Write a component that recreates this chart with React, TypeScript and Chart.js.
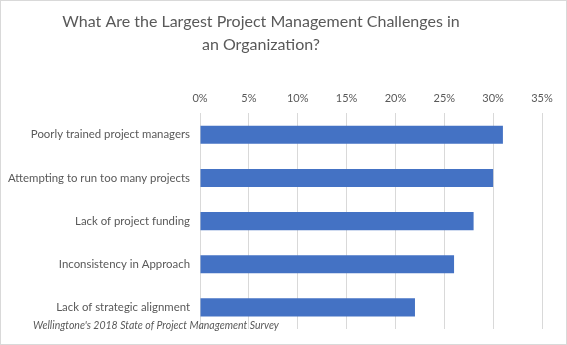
import React, { useEffect, useRef } from "react";
import { Chart, registerables } from "chart.js";

Chart.register(...registerables);

const categories: string[] = [
  "Poorly trained project managers",
  "Attempting to run too many projects",
  "Lack of project funding",
  "Inconsistency in Approach",
  "Lack of strategic alignment",
];
const values: number[] = [0.31, 0.30, 0.28, 0.26, 0.22];
const titleLines: string[] = [
  "What Are the Largest Project Management Challenges in",
  "an Organization?",
];
const footnote = "Wellingtone's 2018 State of Project Management Survey";

const TEXT = "#595959";
const FONT = "Lato, 'Liberation Sans', sans-serif";

const decorPlugin = {
  id: "decor",
  afterDraw(chart: any) {
    const ctx = chart.ctx;
    ctx.save();
    ctx.strokeStyle = "#D9D9D9";
    ctx.lineWidth = 1;
    ctx.strokeRect(0.5, 0.5, chart.width - 1, chart.height - 1);
    ctx.fillStyle = TEXT;
    ctx.textAlign = "center";
    ctx.textBaseline = "middle";
    ctx.font = `16px ${FONT}`;
    ctx.fillText(titleLines[0], 261, 22);
    ctx.fillText(titleLines[1], 261, 45);
    ctx.textAlign = "left";
    ctx.font = `italic 10.5px ${FONT}`;
    ctx.fillText(footnote, 33, 326);
    ctx.restore();
  },
};

export default function App() {
  const ref = useRef<HTMLCanvasElement | null>(null);
  useEffect(() => {
    if (!ref.current) return;
    const chart = new Chart(ref.current, {
      type: "bar",
      data: {
        labels: categories,
        datasets: [
          {
            data: values,
            backgroundColor: "#4472C4",
            barPercentage: 0.42,
            categoryPercentage: 1,
          },
        ],
      },
      options: {
        indexAxis: "y",
        animation: false,
        responsive: false,
        maintainAspectRatio: false,
        layout: { padding: { top: 84, right: 25, bottom: 16, left: 0 } },
        plugins: {
          legend: { display: false },
          tooltip: { enabled: false },
          title: { display: false },
        },
        scales: {
          x: {
            position: "top",
            min: 0,
            max: 0.35,
            ticks: {
              stepSize: 0.05,
              color: TEXT,
              font: { family: FONT, size: 11 },
              padding: 8,
              callback: (v: any) => `${Math.round(Number(v) * 100)}%`,
            },
            grid: { color: "#D9D9D9", drawTicks: false },
            border: { display: false },
          },
          y: {
            ticks: {
              color: TEXT,
              font: { family: FONT, size: 11.4 },
              padding: 2,
            },
            grid: { display: false },
            border: { display: false },
            afterFit: (scale: any) => {
              scale.width = 200;
            },
          },
        },
      },
      plugins: [decorPlugin],
    });
    return () => chart.destroy();
  }, []);
  return (
    <div style={{ position: "fixed", left: 0, top: 0, width: 567, height: 345, background: "#fff" }}>
      <canvas ref={ref} width={567} height={345} />
    </div>
  );
}
